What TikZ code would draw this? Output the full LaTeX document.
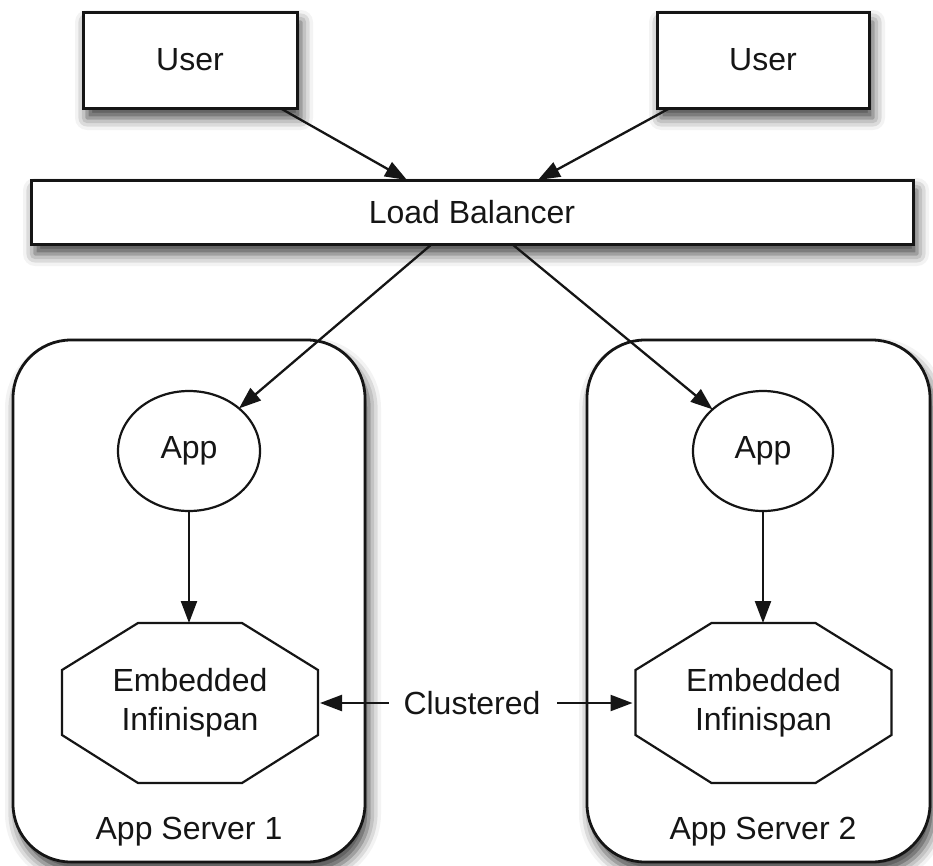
\documentclass[tikz,border=0pt]{standalone}
\usepackage{fontspec}
\setmainfont{Liberation Sans}
\usetikzlibrary{arrows.meta,shadows.blur,calc,shapes.geometric}
\definecolor{ink}{HTML}{151515}
\begin{document}
\begin{tikzpicture}[x=1pt,y=-1pt,
  every node/.style={font=\fontsize{32}{39}\selectfont, text=ink, inner sep=0pt, outer sep=0pt},
  shadowed/.style={blur shadow={shadow xshift=4pt, shadow yshift=-10pt, shadow blur radius=12pt, shadow opacity=75}},
  sqbox/.style={draw=ink, line width=3pt, fill=white, shadowed},
  srvbox/.style={draw=ink, line width=2.8pt, fill=white, rounded corners=58pt, shadowed},
  appnode/.style={ellipse, draw=ink, line width=2.2pt, fill=white, minimum height=120pt},
  octline/.style={draw=ink, line width=2.2pt, fill=white, line join=miter},
  conn/.style={draw=ink, line width=2.3pt, -{Triangle[length=22pt,width=16pt]}},
]
\useasboundingbox (0,0) rectangle (933,865);

% app servers
\node[srvbox, minimum width=352pt, minimum height=522pt] (srv1) at (189,601) {};
\node[srvbox, minimum width=343pt, minimum height=522pt] (srv2) at (758.5,601) {};
\node (srv1lbl) at (189,832) {App Server 1};
\node (srv2lbl) at (763,832) {App Server 2};

% users and balancer
\node[sqbox, minimum width=214pt, minimum height=96pt] (user1) at (190,60) {User};
\node[sqbox, minimum width=212pt, minimum height=96pt] (user2) at (763,60) {User};
\node[sqbox, minimum width=882pt, minimum height=64pt] (lb) at (472,212) {Load Balancer};

% apps
\node[appnode, minimum width=142pt] (app1) at (189,451) {App};
\node[appnode, minimum width=140pt] (app2) at (763,451) {App};

% embedded infinispan (octagons)
\node[minimum width=256pt, minimum height=160pt] (emb1) at (190,703) {};
\node[minimum width=256pt, minimum height=160pt] (emb2) at (763.5,703) {};
\foreach \n in {emb1,emb2}{
  \draw[octline] ($(\n.center)+(-52,-80)$) -- ($(\n.center)+(52,-80)$) -- ($(\n.center)+(128,-33)$) -- ($(\n.center)+(128,32)$) -- ($(\n.center)+(52,80)$) -- ($(\n.center)+(-52,80)$) -- ($(\n.center)+(-128,32)$) -- ($(\n.center)+(-128,-33)$) -- cycle;
}
\node[align=center] (emb1txt) at (190,703) {Embedded\\Infinispan};
\node[align=center] (emb2txt) at (763.5,703) {Embedded\\Infinispan};

\node (clus) at (472,703) {Clustered};

% connectors
\draw[conn] ([xshift=90pt]user1.south) -- ([xshift=-65pt]lb.north);
\draw[conn] ([xshift=-93pt]user2.south) -- ([xshift=66pt]lb.north);
\draw[conn] ([xshift=-40pt]lb.south) -- (app1);
\draw[conn] ([xshift=40pt]lb.south) -- (app2);
\draw[conn] (app1.south) -- (app1.south |- emb1.north);
\draw[conn] (app2.south) -- (app2.south |- emb2.north);
\draw[conn] ([xshift=-15pt]clus.west) -- ([xshift=2pt]emb1.east);
\draw[conn] ([xshift=17pt]clus.east) -- ([xshift=-3pt]emb2.west);
\end{tikzpicture}
\end{document}
